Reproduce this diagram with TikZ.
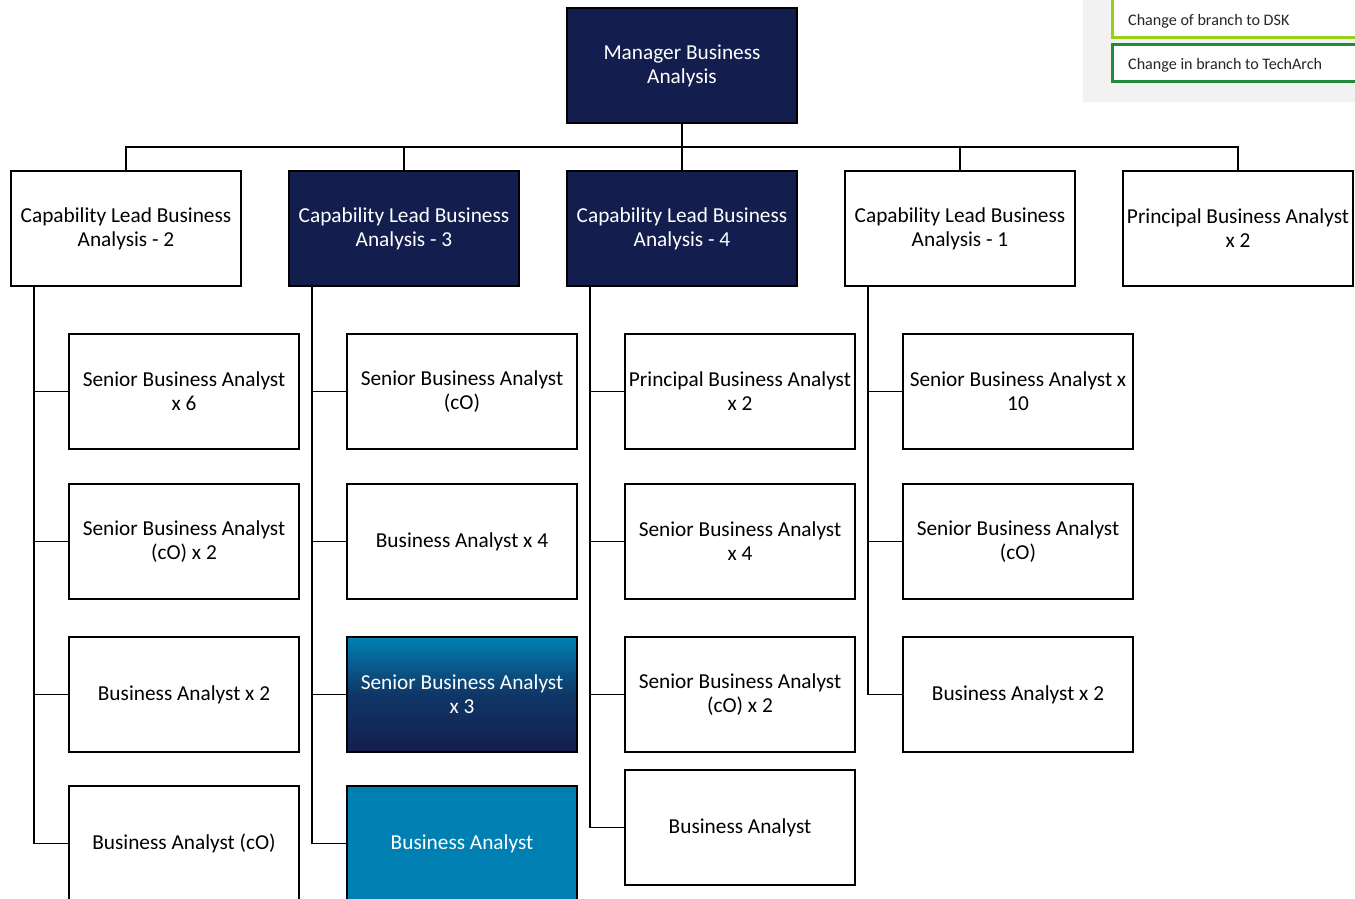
\documentclass[tikz,border=0pt]{standalone}
\usepackage{fontspec}
\setmainfont{Carlito}
\definecolor{navy}{RGB}{20,30,78}
\definecolor{teal}{RGB}{0,128,178}
\definecolor{lime}{RGB}{150,210,20}
\definecolor{dkgreen}{RGB}{32,140,62}
\definecolor{legendbg}{RGB}{242,242,242}
\begin{document}
\begin{tikzpicture}[x=1pt,y=-1pt,
  box/.style={draw=black, line width=1.5pt, fill=white, minimum width=230pt, minimum height=115pt,
    inner sep=0pt, align=center, font=\fontsize{21.3}{24}\selectfont},
  dark/.style={box, fill=navy, text=white},
  grad/.style={box, top color=teal, bottom color=navy, middle color=navy!75!teal, text=white},
  blue/.style={box, fill=teal, text=white},
  link/.style={draw=black, line width=1.8pt},
  legbox/.style={line width=2.8pt, fill=white, minimum width=250pt, inner sep=0pt, anchor=north west},
  legtext/.style={anchor=west, inner sep=0pt, font=\fontsize{16.1}{18}\selectfont, text=black!85}
]
\useasboundingbox (0,0) rectangle (1355,899);

% legend panel
\fill[legendbg] (1083,-2) rectangle (1360,102);
\node[legbox, draw=lime, minimum height=42pt] (legA) at (1111,-6) {};
\node[legbox, draw=dkgreen, minimum height=37pt] (legB) at (1111,43) {};
\node[legtext] (legAt) at (1128,21) {Change of branch to DSK};
\node[legtext] (legBt) at (1128,65) {Change in branch to TechArch};

% top level
\node[dark] (mgr) at (682,65.5) {Manager Business\\Analysis};

% capability leads
\node[box]  (cl2) at (126,228.5)  {Capability Lead Business\\Analysis - 2};
\node[dark] (cl3) at (404,228.5)  {Capability Lead Business\\Analysis - 3};
\node[dark] (cl4) at (682,228.5)  {Capability Lead Business\\Analysis - 4};
\node[box]  (cl1) at (960,228.5)  {Capability Lead Business\\Analysis - 1};
\node[box]  (pba) at (1238,228.5) {Principal Business Analyst\\x 2};

\coordinate (bus) at (682,147);
\draw[link, line width=2.6pt] (mgr.south) -- (bus);
\foreach \n in {cl2,cl3,cl4,cl1,pba} \draw[link] (\n.north) |- (bus);

% column under lead 2
\node[box] (a1) at (184,391.5) {Senior Business Analyst\\x 6};
\node[box] (a2) at (184,541.5) {Senior Business Analyst\\(cO) x 2};
\node[box] (a3) at (184,694.5) {Business Analyst x 2};
\node[box] (a4) at (184,843.5) {Business Analyst (cO)};

% column under lead 3
\node[box]  (b1) at (462,391.5) {Senior Business Analyst\\(cO)};
\node[box]  (b2) at (462,541.5) {Business Analyst x 4};
\node[grad] (b3) at (462,694.5) {Senior Business Analyst\\x 3};
\node[blue] (b4) at (462,843.5) {Business Analyst};

% column under lead 4
\node[box] (c1) at (740,391.5) {Principal Business Analyst\\x 2};
\node[box] (c2) at (740,541.5) {Senior Business Analyst\\x 4};
\node[box] (c3) at (740,694.5) {Senior Business Analyst\\(cO) x 2};
\node[box] (c4) at (740,827.5) {Business Analyst};

% column under lead 1
\node[box] (d1) at (1018,391.5) {Senior Business Analyst x\\10};
\node[box] (d2) at (1018,541.5) {Senior Business Analyst\\(cO)};
\node[box] (d3) at (1018,694.5) {Business Analyst x 2};

% spines
\foreach \c in {a1,a2,a3,a4} \draw[link] ([xshift=24pt]cl2.south west) |- (\c.west);
\foreach \c in {b1,b2,b3,b4} \draw[link] ([xshift=24pt]cl3.south west) |- (\c.west);
\foreach \c in {c1,c2,c3,c4} \draw[link] ([xshift=24pt]cl4.south west) |- (\c.west);
\foreach \c in {d1,d2,d3} \draw[link] ([xshift=24pt]cl1.south west) |- (\c.west);
\end{tikzpicture}
\end{document}
